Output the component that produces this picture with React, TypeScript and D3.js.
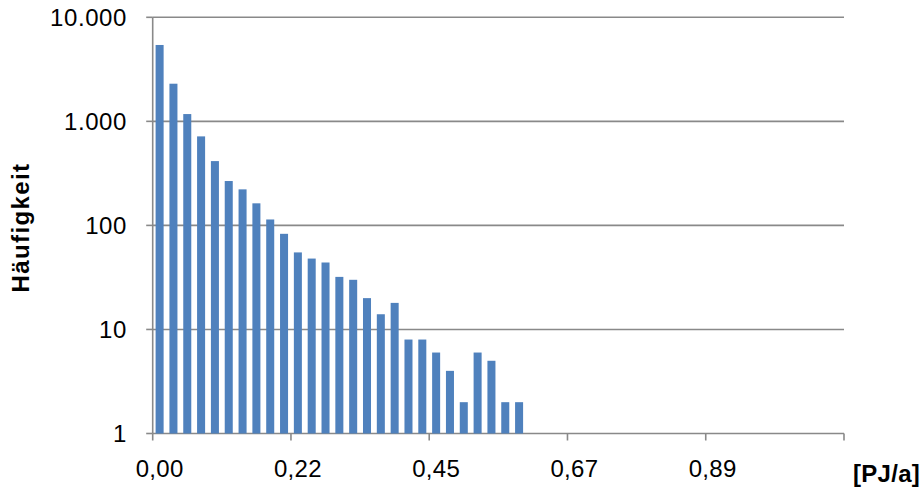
import React from "react";
import * as d3 from "d3";

const binCount = 50;
const counts = [5420, 2300, 1175, 717, 415, 267, 222, 163, 114, 83, 55, 48, 44, 32, 30, 20, 14, 18, 8, 8, 6, 4, 2, 6, 5, 2, 2];
const xTickLabels = ["0,00", "0,22", "0,45", "0,67", "0,89"];
const xTickEvery = 10;
const yTickValues = [1, 10, 100, 1000, 10000];
const yTickLabels = ["1", "10", "100", "1.000", "10.000"];
const yTitle = "Häufigkeit";
const xUnit = "[PJ/a]";

const W = 924;
const H = 492;
const left = 152.7;
const right = 844;
const top = 17.3;
const bottom = 433.5;
const font = "'Liberation Sans', Arial, sans-serif";
const grid = "#898989";
const barColor = "#4F81BD";

export default function App() {
  const x = d3
    .scaleBand<number>()
    .domain(d3.range(binCount))
    .range([left, right])
    .paddingInner(0.42)
    .paddingOuter(0.21);
  const y = d3.scaleLog().domain([1, 10000]).range([bottom, top]);
  const step = x.step();
  const boundaries = d3.range(0, binCount + 1, xTickEvery);

  return (
    <svg
      width={W}
      height={H}
      style={{ position: "absolute", left: 0, top: 0, background: "#fff" }}
    >
      {yTickValues.map((v) => (
        <line key={"g" + v} x1={left} x2={right} y1={y(v)} y2={y(v)} stroke={grid} strokeWidth={1.6} />
      ))}
      <line x1={left} x2={left} y1={top} y2={bottom} stroke={grid} strokeWidth={1.6} />
      {yTickValues.map((v, i) => (
        <g key={"yt" + v}>
          <line x1={left - 6.5} x2={left} y1={y(v)} y2={y(v)} stroke={grid} strokeWidth={1.6} />
          <text
            x={127}
            y={y(v) + 8.5}
            textAnchor="end"
            fontFamily={font}
            fontSize={24}
            letterSpacing={0.6}
            fill="#000"
          >
            {yTickLabels[i]}
          </text>
        </g>
      ))}
      {counts.map((c, i) => (
        <rect
          key={"b" + i}
          x={x(i)}
          width={x.bandwidth()}
          y={y(c)}
          height={y(1) - y(c)}
          fill={barColor}
        />
      ))}
      {boundaries.map((b) => (
        <line
          key={"xt" + b}
          x1={left + b * step}
          x2={left + b * step}
          y1={bottom}
          y2={bottom + 7}
          stroke={grid}
          strokeWidth={1.6}
        />
      ))}
      {xTickLabels.map((lab, i) => (
        <text
          key={"xl" + i}
          x={(x(i * xTickEvery) as number) + x.bandwidth() / 2}
          y={477.3}
          textAnchor="middle"
          fontFamily={font}
          fontSize={24}
          letterSpacing={0.3}
          fill="#000"
        >
          {lab}
        </text>
      ))}
      <text
        transform={`translate(29,227.5) rotate(-90)`}
        textAnchor="middle"
        fontFamily={font}
        fontSize={24}
        fontWeight="bold"
        letterSpacing={1.4}
        fill="#000"
      >
        {yTitle}
      </text>
      <text
        x={853}
        y={482}
        fontFamily={font}
        fontSize={24}
        fontWeight="bold"
        letterSpacing={0.3}
        fill="#000"
      >
        {xUnit}
      </text>
    </svg>
  );
}
